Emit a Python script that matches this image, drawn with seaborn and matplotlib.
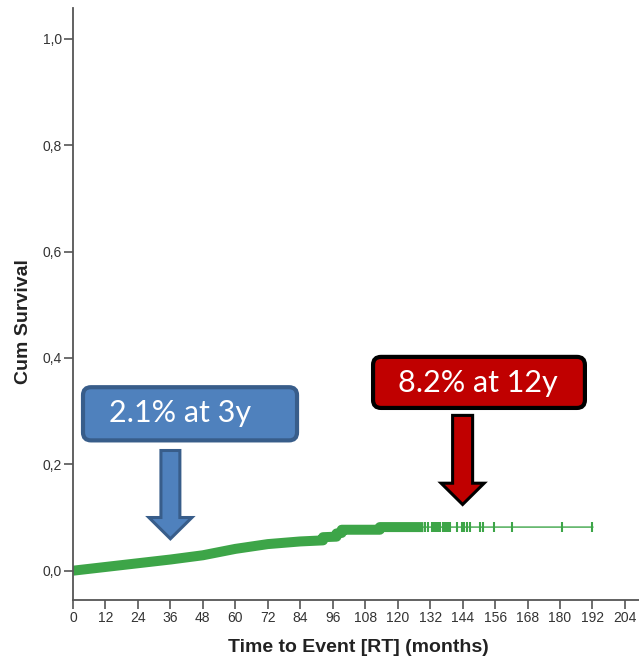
import numpy as np
import pandas as pd
import matplotlib
matplotlib.use("Agg")
import matplotlib.pyplot as plt
from matplotlib.patches import FancyBboxPatch, FancyArrow
import seaborn as sns

# Cumulative incidence curve: knots of the estimate (repeated month = jump)
event_months = [0, 12, 24, 36, 48, 60, 72, 84, 92.4, 92.4, 97.4, 97.4,
                99.3, 99.3, 113.4, 113.4, 192.2]
cum_value = [0.000, 0.007, 0.014, 0.021, 0.029, 0.041, 0.050, 0.055, 0.057,
             0.063, 0.064, 0.070, 0.071, 0.077, 0.077, 0.082, 0.082]

# Follow-up where censoring is so dense that the marks merge into a band
dense_until = 129.5

# Individually visible censoring times (months)
censor_months = [130.0, 131.2, 132.7, 133.4, 134.0, 134.6, 135.2, 135.6, 136.7,
                 137.3, 137.9, 138.5, 139.3, 141.8, 143.6, 144.6, 145.5, 146.7,
                 150.4, 151.4, 155.6, 162.1, 180.6, 191.7]

x_ticks = list(range(0, 205, 12))
y_ticks = [0.0, 0.2, 0.4, 0.6, 0.8, 1.0]
y_tick_labels = ["0,0", "0,2", "0,4", "0,6", "0,8", "1,0"]

callouts = [
    {"text": "2.1% at 3y", "month": 36, "value": 0.021},
    {"text": "8.2% at 12y", "month": 144, "value": 0.082},
]

GREEN = "#3DA548"

sns.set_style("ticks")
plt.rcParams["font.family"] = ["Liberation Sans", "DejaVu Sans"]

fig = plt.figure(figsize=(6.39, 6.62), dpi=100)
ax = fig.add_axes([0.11424, 0.09366, 0.8858, 0.89426])
ax.set_xlim(0, 209.2)
ax.set_ylim(-0.0551, 1.058)

curve = pd.DataFrame({"month": event_months, "value": cum_value})
dense = curve[curve["month"] <= dense_until]
dense = pd.concat([dense, pd.DataFrame({"month": [dense_until],
                                        "value": [dense["value"].iloc[-1]]})])

def value_at(t):
    idx = np.searchsorted(event_months, t, side="right") - 1
    return cum_value[max(idx, 0)]

# thin full curve
sns.lineplot(data=curve, x="month", y="value", color=GREEN, linewidth=1.0,
             ax=ax, sort=False, estimator=None)
# merged censoring band
sns.lineplot(data=dense, x="month", y="value", color=GREEN, linewidth=7.2,
             ax=ax, sort=False, estimator=None, solid_capstyle="butt")
cens = pd.DataFrame({"month": censor_months,
                     "value": [value_at(t) for t in censor_months]})
sns.scatterplot(data=cens, x="month", y="value", marker="|", s=55,
                linewidth=1.5, color=GREEN, ax=ax, legend=False)

# axes styling
for side in ("top", "right"):
    ax.spines[side].set_visible(False)
for side in ("left", "bottom"):
    ax.spines[side].set_color("#555555")
    ax.spines[side].set_linewidth(1.3)
ax.set_xticks(x_ticks)
ax.set_yticks(y_ticks)
ax.set_yticklabels(y_tick_labels)
ax.tick_params(axis="both", direction="out", length=6.5, width=1.2,
               color="#555555", labelsize=10, labelcolor="#333333", pad=1.5)
ax.set_xlabel("Time to Event [RT] (months)", fontsize=14, fontweight="bold",
              color="#222222")
ax.set_ylabel("Cum Survival", fontsize=14, fontweight="bold", color="#222222")
ax.xaxis.set_label_coords(0.505, -0.066)
ax.yaxis.set_label_coords(-0.072, 0.47)

# callout boxes and arrows
box_specs = [
    dict(x0=3.7, x1=82.8, ytop=0.345, ybot=0.245, face="#4F81BD", edge="#385D8A",
         arrow_face="#4F81BD", tx=39.5, ty=0.296,
         arrow_top=0.226, tip=0.060, head_len=0.040, width=7.0, head_w=15.9),
    dict(x0=110.9, x1=189.2, ytop=0.402, ybot=0.306, face="#C00000", edge="#000000",
         arrow_face="#C00000", tx=149.5, ty=0.352,
         arrow_top=0.292, tip=0.1245, head_len=0.040, width=7.4, head_w=15.9),
]

fig.canvas.draw()
for spec, co in zip(box_specs, callouts):
    (px0, py0) = ax.transData.transform((spec["x0"], spec["ybot"]))
    (px1, py1) = ax.transData.transform((spec["x1"], spec["ytop"]))
    box = FancyBboxPatch((px0, py0), px1 - px0, py1 - py0,
                         boxstyle="round,pad=0,rounding_size=8",
                         transform=None, facecolor=spec["face"],
                         edgecolor=spec["edge"], linewidth=3.0, zorder=5)
    fig.patches.append(box)
    fig.text(*fig.transFigure.inverted().transform(
                 ax.transData.transform((spec["tx"], spec["ty"]))),
             co["text"], color="white", fontsize=22, family=["Lato", "DejaVu Sans"],
             ha="center", va="center", zorder=6)
    arrow = FancyArrow(co["month"], spec["arrow_top"], 0, spec["tip"] - spec["arrow_top"],
                       width=spec["width"], head_width=spec["head_w"],
                       head_length=spec["head_len"], length_includes_head=True,
                       facecolor=spec["arrow_face"], edgecolor=spec["edge"],
                       linewidth=2.2, zorder=5)
    ax.add_patch(arrow)

fig.savefig("out.png", dpi=100)
